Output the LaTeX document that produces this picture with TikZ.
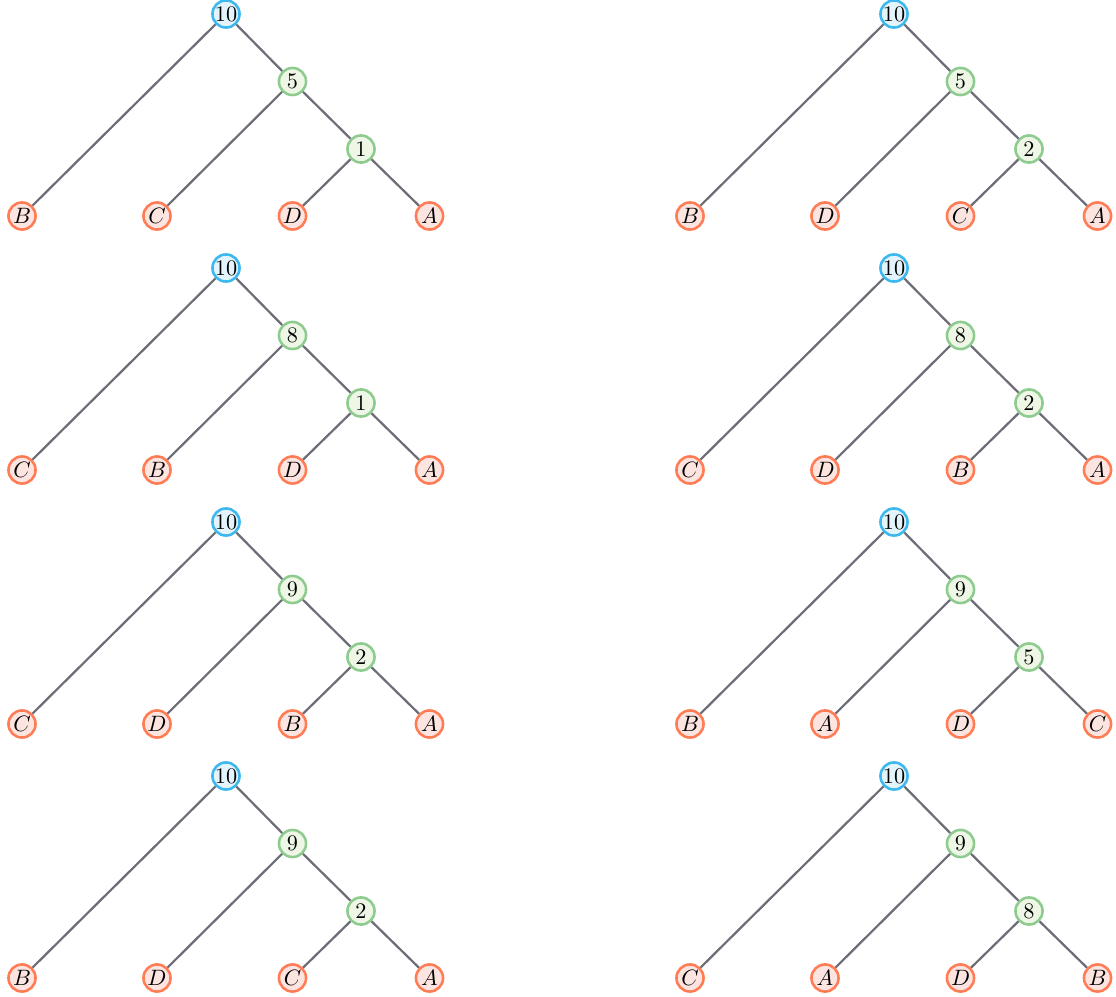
\documentclass[tikz,border=0pt]{standalone}
\usetikzlibrary{backgrounds}
\definecolor{rootline}{HTML}{3DB8EE}
\definecolor{rootfill}{HTML}{E3F4FD}
\definecolor{midline}{HTML}{8DCB8F}
\definecolor{midfill}{HTML}{EEF7E6}
\definecolor{leafline}{HTML}{FF7C55}
\definecolor{leaffill}{HTML}{FCE4E0}
\definecolor{edgecol}{HTML}{6D6D78}
\tikzset{
  tnode/.style={circle, line width=1.15pt, minimum size=12.2pt, inner sep=0pt, font=\normalsize},
  rootnode/.style={tnode, draw=rootline, fill=rootfill},
  midnode/.style={tnode, draw=midline, fill=midfill},
  leafnode/.style={tnode, draw=leafline, fill=leaffill},
  edge/.style={draw=edgecol, line width=1pt}
}
\newcommand\mytree[9]{%
  \begin{scope}[shift={(#2,#3)}]
    \node[rootnode] (#1r) at (226,14) {10};
    \node[midnode] (#1m) at (292.5,81.5) {#4};
    \node[midnode] (#1l) at (361,149) {#5};
    \node[leafnode] (#1a) at (22,216) {$#6$};
    \node[leafnode] (#1b) at (157,216) {$#7$};
    \node[leafnode] (#1c) at (292.5,216) {$#8$};
    \node[leafnode] (#1d) at (429.5,216) {$#9$};
    \draw[edge] (#1r) -- (#1a);
    \draw[edge] (#1r) -- (#1m);
    \draw[edge] (#1m) -- (#1b);
    \draw[edge] (#1m) -- (#1l);
    \draw[edge] (#1l) -- (#1c);
    \draw[edge] (#1l) -- (#1d);
  \end{scope}}
\begin{document}
\begin{tikzpicture}[x=0.45pt,y=-0.45pt]
  \useasboundingbox (0,0) rectangle (1116,997);
  \mytree{p}{0}{0}{5}{1}{B}{C}{D}{A}
  \mytree{q}{668}{0}{5}{2}{B}{D}{C}{A}
  \mytree{r}{0}{254}{8}{1}{C}{B}{D}{A}
  \mytree{s}{668}{254}{8}{2}{C}{D}{B}{A}
  \mytree{t}{0}{508}{9}{2}{C}{D}{B}{A}
  \mytree{u}{668}{508}{9}{5}{B}{A}{D}{C}
  \mytree{v}{0}{762}{9}{2}{B}{D}{C}{A}
  \mytree{w}{668}{762}{9}{8}{C}{A}{D}{B}
\end{tikzpicture}
\end{document}
